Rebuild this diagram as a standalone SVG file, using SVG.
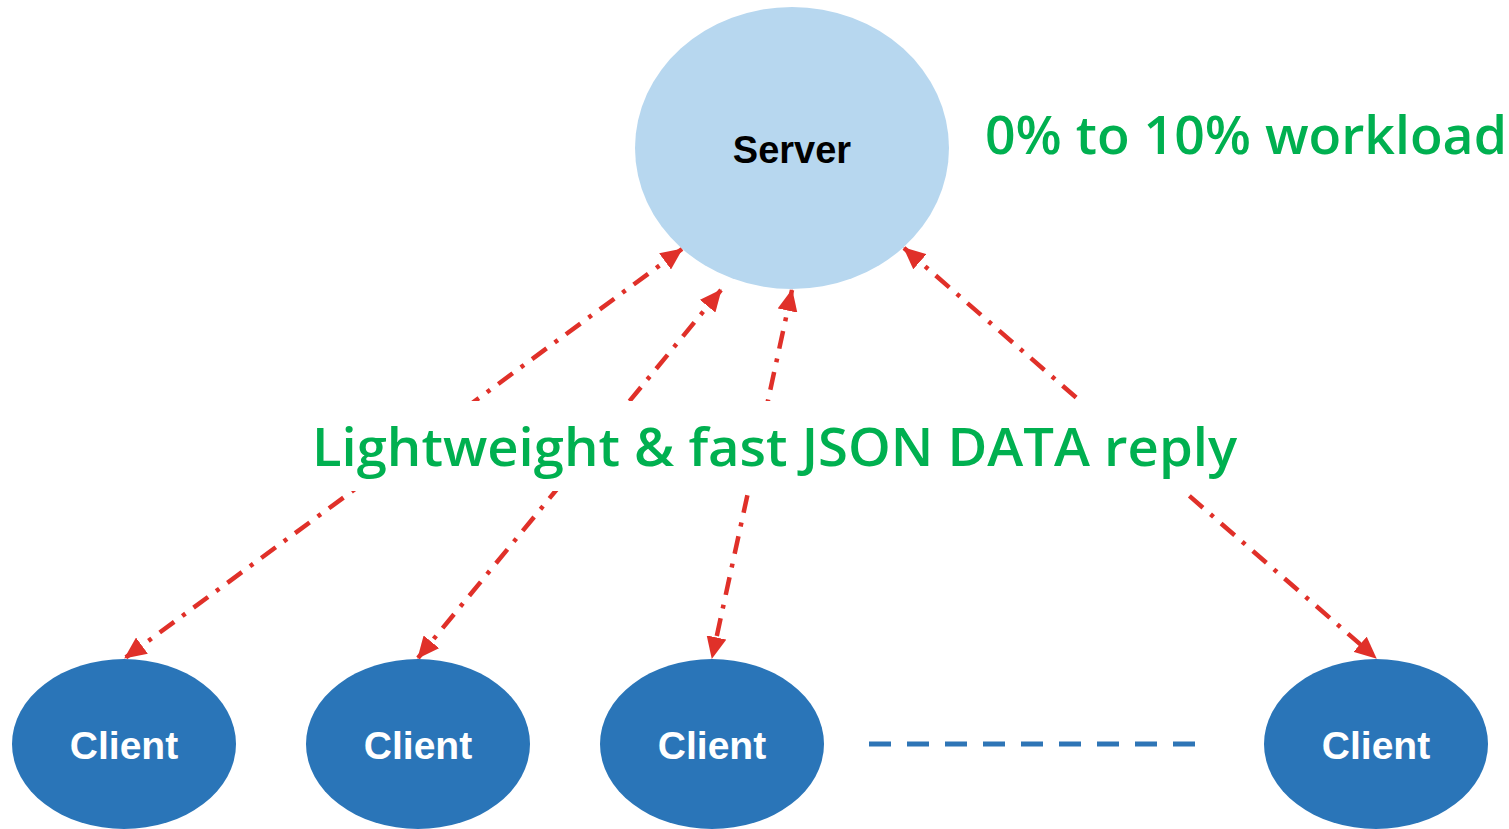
<svg xmlns="http://www.w3.org/2000/svg" width="1509" height="829" viewBox="0 0 1509 829">
<defs>
<style>
.client{fill:#2A75B8}
.ctext{fill:#fff;font-family:"Liberation Sans",Arial,sans-serif;font-weight:bold;font-size:39px;text-anchor:middle}
.conn{stroke:#E03029;stroke-width:4.5;fill:none;stroke-dasharray:18 10 4 10}
.green{fill:#00B050;font-family:"Open Sans","Noto Sans",sans-serif;font-size:52px;font-weight:600}
</style>
<marker id="ah" viewBox="0 0 22 20" refX="21" refY="10" markerWidth="22" markerHeight="20" markerUnits="userSpaceOnUse" orient="auto-start-reverse">
<path d="M0,0 L22,10 L0,20 z" fill="#E03029"/>
</marker>
</defs>
<rect width="1509" height="829" fill="#fff"/>
<g id="connectors">
<line class="conn" x1="682" y1="249" x2="125" y2="658" marker-start="url(#ah)" marker-end="url(#ah)"/>
<line class="conn" x1="721" y1="290" x2="418" y2="658" marker-start="url(#ah)" marker-end="url(#ah)"/>
<line class="conn" x1="792" y1="290" x2="712" y2="658" marker-start="url(#ah)" marker-end="url(#ah)"/>
<line class="conn" x1="904" y1="248" x2="1376" y2="658" marker-start="url(#ah)" marker-end="url(#ah)"/>
<line x1="869" y1="744" x2="1196" y2="744" stroke="#2E75B6" stroke-width="5" stroke-dasharray="22 16"/>
</g>
<g id="server">
<ellipse cx="792" cy="148" rx="157" ry="141" fill="#B7D7EF"/>
<text x="792" y="163" font-family="'Liberation Sans',Arial,sans-serif" font-weight="bold" font-size="38" text-anchor="middle" fill="#000">Server</text>
</g>
<g id="client1"><ellipse class="client" cx="124" cy="744" rx="112" ry="85"/><text class="ctext" x="124" y="759">Client</text></g>
<g id="client2"><ellipse class="client" cx="418" cy="744" rx="112" ry="85"/><text class="ctext" x="418" y="759">Client</text></g>
<g id="client3"><ellipse class="client" cx="712" cy="744" rx="112" ry="85"/><text class="ctext" x="712" y="759">Client</text></g>
<g id="client4"><ellipse class="client" cx="1376" cy="744" rx="112" ry="85"/><text class="ctext" x="1376" y="759">Client</text></g>
<g id="label-reply">
<rect x="305" y="401" width="940" height="90" fill="#fff"/>
<text class="green" x="312" y="466" textLength="925" lengthAdjust="spacingAndGlyphs">Lightweight &amp; fast JSON DATA reply</text>
</g>
<g id="label-workload">
<text class="green" x="985" y="154" textLength="522" lengthAdjust="spacingAndGlyphs">0% to 10% workload</text>
</g>
</svg>
